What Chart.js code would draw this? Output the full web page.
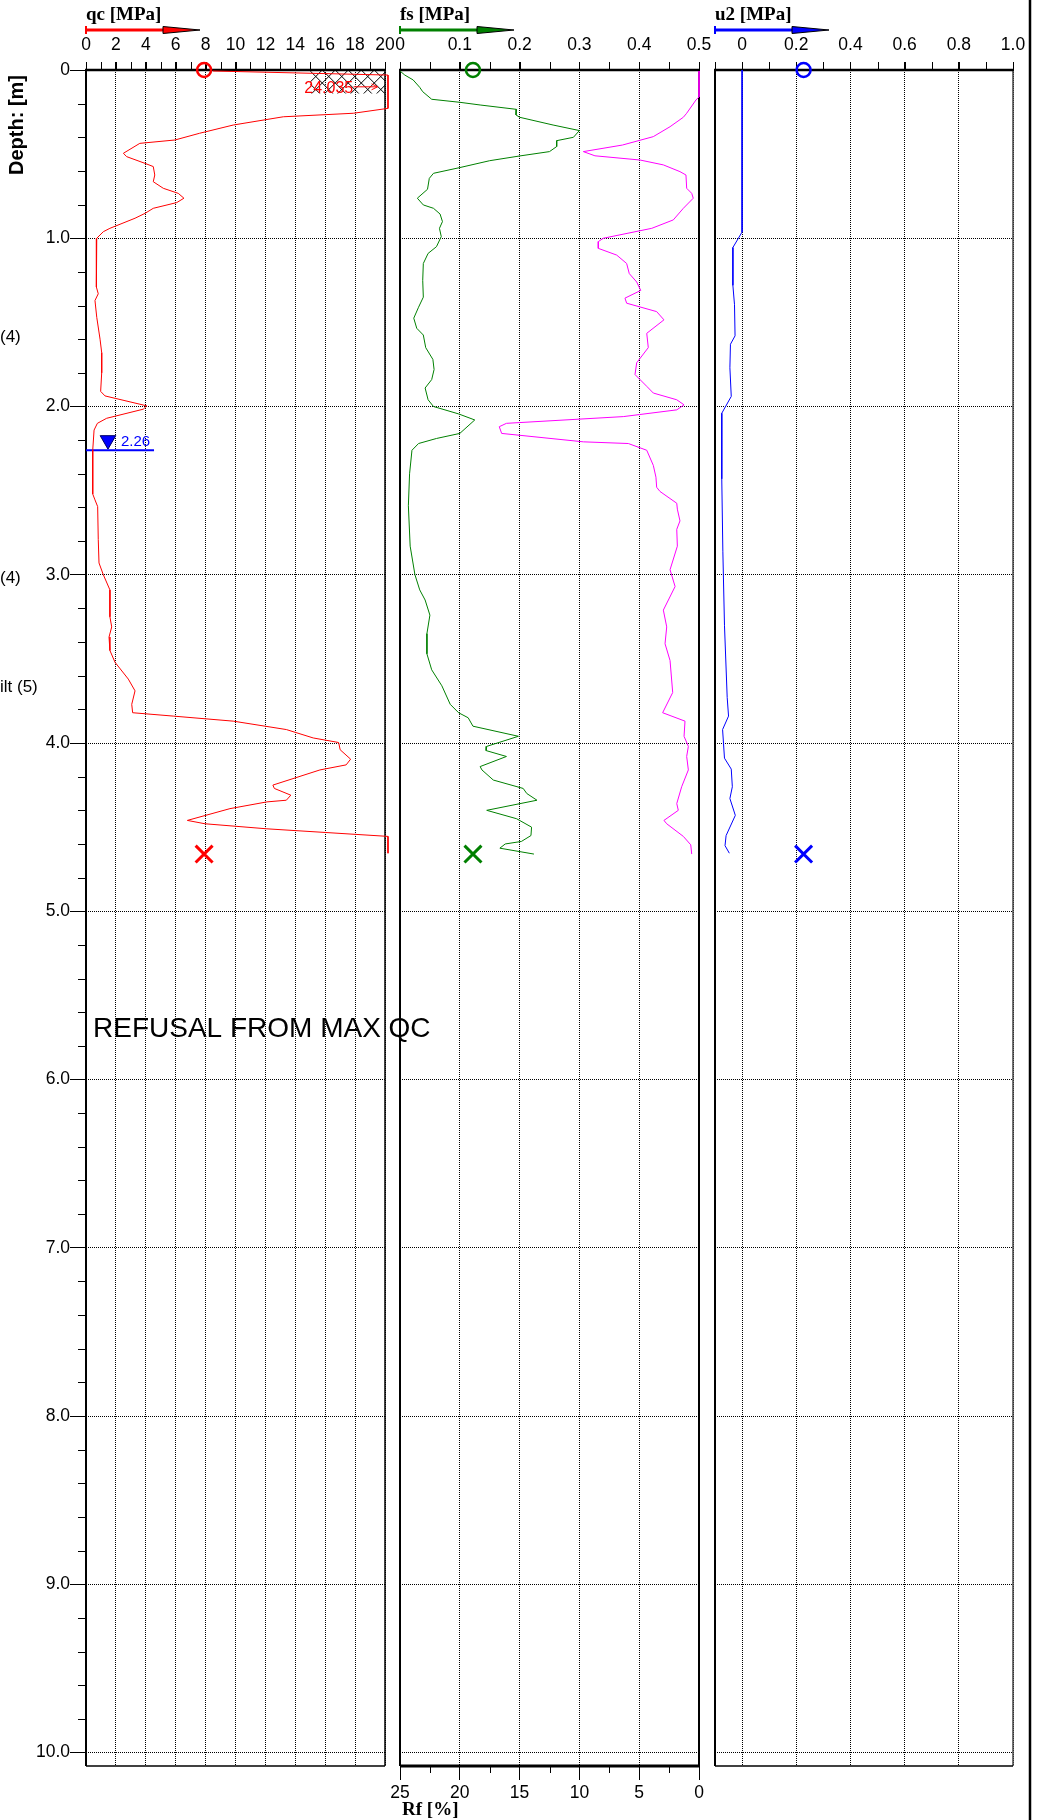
<!DOCTYPE html>
<html>
<head>
<meta charset="utf-8">
<script src="https://cdn.jsdelivr.net/npm/chart.js@4.4.0/dist/chart.umd.min.js"></script>
<style>
    body { margin: 0; background: #fff; width: 1048px; height: 1820px; overflow: hidden; position: relative; }
    canvas { position: absolute; top: 0; }
</style>
</head>
<body>
<canvas id="qcChart" width="440" height="1820" style="left:0px"></canvas>
<canvas id="fsChart" width="330" height="1820" style="left:385px"></canvas>
<canvas id="u2Chart" width="348" height="1820" style="left:700px"></canvas>
<script>
// cone resistance qc [MPa] vs depth [m]
const qcDepth = [0.006, 0.03, 0.04, 0.228, 0.257, 0.278, 0.327, 0.376, 0.416, 0.436, 0.495, 0.515, 0.555, 0.574, 0.624, 0.664,
    0.703, 0.733, 0.762, 0.788, 0.822, 0.852, 0.881, 0.941, 0.961, 1.0, 1.11, 1.29, 1.33, 1.37, 1.47, 1.60, 1.68, 1.80, 1.91,
    1.937, 1.996, 2.016, 2.07, 2.10, 2.14, 2.26, 2.52, 2.555, 2.595, 2.79, 2.93, 3.0, 3.09, 3.25, 3.31, 3.37, 3.45, 3.52, 3.62,
    3.69, 3.77, 3.82, 3.84, 3.87, 3.92, 3.97, 3.997, 4.04, 4.096, 4.13, 4.16, 4.25, 4.27, 4.31, 4.34, 4.35, 4.39, 4.46, 4.48,
    4.51, 4.555, 4.655];
const qcValues = [8.5, 20.2, 20.2, 20.2, 17.9, 13.2, 9.85, 7.6, 5.95, 3.6, 2.5, 2.72, 3.95, 4.5, 4.6, 4.5,
    5.17, 6.17, 6.55, 6.07, 4.5, 3.95, 3.28, 1.6, 1.16, 0.72, 0.67, 0.72, 0.82, 0.6, 0.72, 0.94, 1.05, 1.05, 0.98,
    1.27, 4.06, 3.83, 1.38, 0.76, 0.54, 0.45, 0.45, 0.6, 0.78, 0.82, 0.87, 1.16, 1.6, 1.6, 1.72, 1.54, 1.6, 1.94, 2.83,
    3.28, 3.06, 3.12, 5.84, 9.85, 13.4, 15.2, 16.9, 17.0, 17.7, 17.4, 15.65, 12.5, 12.6, 13.7, 13.4, 12.1, 9.63, 6.78, 7.96,
    12.1, 20.2, 20.2];

// sleeve friction fs [MPa]
const fsDepth = [0.006, 0.03, 0.059, 0.103, 0.129, 0.174, 0.192, 0.208, 0.234, 0.267, 0.281, 0.327, 0.36, 0.40, 0.42, 0.455,
    0.485, 0.511, 0.539, 0.58, 0.614, 0.644, 0.709, 0.762, 0.802, 0.822, 0.856, 0.901, 0.941, 0.99, 1.05, 1.09, 1.15, 1.25,
    1.35, 1.41, 1.475, 1.535, 1.575, 1.65, 1.72, 1.78, 1.84, 1.89, 1.96, 2.0, 2.044, 2.08, 2.16, 2.19, 2.22, 2.26, 2.40, 2.59,
    2.83, 3.0, 3.09, 3.15, 3.24, 3.35, 3.47, 3.565, 3.66, 3.77, 3.82, 3.85, 3.90, 3.96, 4.02, 4.045, 4.08, 4.14, 4.16, 4.22,
    4.27, 4.30, 4.34, 4.40, 4.45, 4.50, 4.55, 4.585, 4.60, 4.625, 4.66];
const fsValues = [0, 0.008, 0.022, 0.033, 0.038, 0.053, 0.10, 0.134, 0.195, 0.194, 0.20, 0.256, 0.30, 0.29, 0.262, 0.262,
    0.25, 0.20, 0.15, 0.10, 0.056, 0.049, 0.046, 0.029, 0.039, 0.056, 0.067, 0.071, 0.066, 0.069, 0.061, 0.047, 0.039, 0.038,
    0.039, 0.031, 0.023, 0.028, 0.039, 0.043, 0.055, 0.057, 0.053, 0.042, 0.047, 0.056, 0.098, 0.125, 0.10, 0.061, 0.031, 0.02, 0.016, 0.014,
    0.017, 0.025, 0.033, 0.042, 0.05, 0.045, 0.045, 0.053, 0.07, 0.084, 0.098, 0.114, 0.122, 0.198, 0.145, 0.144, 0.178, 0.134, 0.137, 0.156,
    0.206, 0.212, 0.229, 0.145, 0.195, 0.22, 0.219, 0.203, 0.176, 0.167, 0.224];

// friction ratio Rf [%]
const rfDepth = [0.006, 0.16, 0.178, 0.257, 0.281, 0.337, 0.396, 0.446, 0.485, 0.51, 0.535, 0.564, 0.604, 0.624, 0.703, 0.733,
    0.762, 0.822, 0.891, 0.941, 1.0, 1.02, 1.06, 1.10, 1.15, 1.21, 1.26, 1.31, 1.356, 1.386, 1.436, 1.485, 1.565, 1.65, 1.74,
    1.81, 1.88, 1.92, 1.96, 1.99, 2.02, 2.06, 2.10, 2.12, 2.16, 2.21, 2.22, 2.26, 2.35, 2.42, 2.48, 2.505, 2.575, 2.61, 2.68,
    2.73, 2.83, 2.97, 3.07, 3.21, 3.31, 3.41, 3.51, 3.70, 3.82, 3.87, 3.96, 4.02, 4.08, 4.16, 4.26, 4.36, 4.40, 4.46, 4.48,
    4.555, 4.605, 4.66];
const rfValues = [0, 0, 0.25, 1.03, 1.31, 2.42, 3.82, 6.4, 9.67, 8.7, 4.93, 2.98, 1.59, 1.09, 1.03, 0.61,
    0.48, 1.31, 2.15, 3.95, 8.0, 8.42, 8.42, 6.88, 6.05, 5.83, 5.21, 4.87, 6.19, 6.05, 3.54, 2.93, 4.37, 4.24, 5.21,
    5.35, 4.37, 3.82, 1.86, 1.25, 1.86, 6.33, 16.1, 16.7, 16.5, 9.67, 5.91, 4.37, 3.82, 3.60, 3.54, 3.26, 1.86, 1.81, 1.59,
    1.86, 1.81, 2.42, 2.0, 2.98, 2.70, 2.84, 2.42, 2.20, 3.04, 1.17, 1.25, 0.89, 1.03, 0.89, 1.45, 1.86, 1.73, 2.93, 2.70,
    1.31, 0.69, 0.61];

// pore pressure u2 [MPa]
const u2Depth = [0, 0.963, 1.055, 1.28, 1.395, 1.58, 1.63, 1.77, 1.94, 2.04, 2.43, 2.86, 3.30, 3.73, 3.84, 3.92,
    4.09, 4.155, 4.26, 4.33, 4.43, 4.55, 4.61, 4.655];
const u2Values = [0, 0, -0.034, -0.034, -0.028, -0.026, -0.043, -0.045, -0.04, -0.075, -0.075, -0.071, -0.065, -0.055, -0.050, -0.072,
    -0.065, -0.04, -0.036, -0.045, -0.025, -0.059, -0.063, -0.047];

// axis ticks and labels
const depthTicks = [0, 1, 2, 3, 4, 5, 6, 7, 8, 9, 10];
const depthLabels = ['0', '1.0', '2.0', '3.0', '4.0', '5.0', '6.0', '7.0', '8.0', '9.0', '10.0'];
const qcTicks = [0, 2, 4, 6, 8, 10, 12, 14, 16, 18, 20];
const fsTicks = [0, 0.1, 0.2, 0.3, 0.4, 0.5];
const fsTickLabels = ['0', '0.1', '0.2', '0.3', '0.4', '0.5'];
const u2Ticks = [0, 0.2, 0.4, 0.6, 0.8, 1.0];
const u2TickLabels = ['0', '0.2', '0.4', '0.6', '0.8', '1.0'];
const rfTicks = [0, 5, 10, 15, 20, 25];

// markers and annotations
const waterDepth = 2.26;
const endDepth = 4.66;
const qcMarker = 7.9;
const fsMarker = 0.122;
const u2Marker = 0.227;
const soilLabels = ['(4)', '(4)', 'ilt (5)'];
const soilLabelDepths = [1.59, 3.02, 3.67];

const FONT = '"Liberation Sans", Arial, sans-serif';
const SERIF = '"Liberation Serif", "Times New Roman", serif';
const TICK_SIZE = 17.5;
Chart.defaults.font.family = FONT;
Chart.defaults.color = '#000';

function pts(depths, values) {
    return depths.map((d, i) => ({ x: values[i], y: d }));
}

function range(min, max, step) {
    var out = [];
    for (var v = min; v <= max + step / 1000; v += step) out.push(Math.round(v * 1000) / 1000);
    return out;
}

function line(ctx, x1, y1, x2, y2, w) {
    ctx.lineWidth = w;
    ctx.beginPath();
    ctx.moveTo(x1, y1);
    ctx.lineTo(x2, y2);
    ctx.stroke();
}

function drawHeader(ctx, left, title, color) {
    ctx.font = 'bold 19px ' + SERIF;
    ctx.fillStyle = '#000';
    ctx.textAlign = 'left';
    ctx.textBaseline = 'middle';
    ctx.fillText(title, left, 15);
    ctx.strokeStyle = color;
    line(ctx, left, 30, left + 77, 30, 3);
    line(ctx, left, 26, left, 34, 2);
    ctx.beginPath();
    ctx.moveTo(left + 77, 26.5);
    ctx.lineTo(left + 114, 30);
    ctx.lineTo(left + 77, 33.5);
    ctx.closePath();
    ctx.fillStyle = color;
    ctx.fill();
    ctx.strokeStyle = '#000';
    ctx.lineWidth = 1;
    ctx.stroke();
}

// frame, minor ticks and texts for one panel
function makeDecor(cfg) {
    return {
        id: 'decor',
        beforeDatasetsDraw(chart) {
            const ctx = chart.ctx, a = chart.chartArea;
            const xs = chart.scales.x, ys = chart.scales.y;
            ctx.save();
            ctx.strokeStyle = '#000';

            if (cfg.hatch) {
                const hx = xs.getPixelForValue(15), hy = ys.getPixelForValue(0.14);
                ctx.save();
                ctx.beginPath();
                ctx.rect(hx, a.top, a.right - hx, hy - a.top);
                ctx.clip();
                for (var k = hx - 40; k < a.right + 40; k += 13) {
                    line(ctx, k, a.top, k + 30, a.top + 30, 1);
                    line(ctx, k, a.top, k - 30, a.top + 30, 1);
                }
                ctx.restore();
            }

            line(ctx, a.left, a.top, a.left, a.bottom, 2);
            ctx.strokeStyle = cfg.rightColor;
            line(ctx, a.right, a.top, a.right, a.bottom, cfg.rightWidth);
            ctx.strokeStyle = '#000';
            line(ctx, a.left, a.bottom, a.right, a.bottom, cfg.bottomWidth);
            line(ctx, a.left - 1, a.top, a.right + 1, a.top, 2.5);

            cfg.topMinor.forEach(v => {
                const px = Math.round(xs.getPixelForValue(v)) + 0.5;
                line(ctx, px, a.top - 8, px, a.top, 1);
            });
            if (cfg.depthMinor) {
                range(0, 10, 0.2).forEach(d => {
                    if (Math.abs(d - Math.round(d)) < 0.01) return;
                    const py = Math.round(ys.getPixelForValue(d)) + 0.5;
                    line(ctx, a.left - 8, py, a.left, py, 1);
                });
            }
            if (cfg.rfMinor) {
                const rs = chart.scales.rf;
                cfg.rfMinor.forEach(v => {
                    const px = Math.round(rs.getPixelForValue(v)) + 0.5;
                    line(ctx, px, a.bottom, px, a.bottom + 7, 1);
                });
            }
            if (cfg.borderX) {
                ctx.strokeStyle = '#000';
                line(ctx, cfg.borderX, 0, cfg.borderX, chart.height, 2.5);
            }
            ctx.restore();
        },
        afterDatasetsDraw(chart) {
            const ctx = chart.ctx, a = chart.chartArea;
            const xs = chart.scales.x, ys = chart.scales.y;
            ctx.save();
            drawHeader(ctx, a.left, cfg.title, cfg.color);

            if (cfg.qcPanel) {
                // depth axis title
                ctx.save();
                ctx.translate(17, 125);
                ctx.rotate(-Math.PI / 2);
                ctx.font = 'bold 20px ' + FONT;
                ctx.fillStyle = '#000';
                ctx.textAlign = 'center';
                ctx.textBaseline = 'middle';
                ctx.fillText('Depth: [m]', 0, 0);
                ctx.restore();

                ctx.font = '17px ' + FONT;
                ctx.fillStyle = '#000';
                ctx.textAlign = 'left';
                ctx.textBaseline = 'middle';
                soilLabels.forEach((t, i) => ctx.fillText(t, 0, ys.getPixelForValue(soilLabelDepths[i])));

                // maximum qc note
                ctx.font = '16px ' + FONT;
                ctx.fillStyle = '#ff0000';
                ctx.textBaseline = 'alphabetic';
                ctx.fillText('24.035', xs.getPixelForValue(14.6), ys.getPixelForValue(0.135));
                const ay = ys.getPixelForValue(0.1);
                const ax1 = xs.getPixelForValue(17.9), ax2 = xs.getPixelForValue(19.5);
                ctx.strokeStyle = '#ff0000';
                line(ctx, ax1, ay, ax2, ay, 1);
                ctx.beginPath();
                ctx.moveTo(ax2 - 6, ay - 3);
                ctx.lineTo(ax2, ay);
                ctx.lineTo(ax2 - 6, ay + 3);
                ctx.stroke();

                // water level value
                ctx.font = '15px ' + FONT;
                ctx.fillStyle = '#0000ff';
                ctx.textBaseline = 'bottom';
                ctx.fillText('2.26', xs.getPixelForValue(2.34), ys.getPixelForValue(waterDepth) - 1);

                ctx.font = '28px ' + FONT;
                ctx.fillStyle = '#000';
                ctx.textBaseline = 'middle';
                ctx.fillText('REFUSAL FROM MAX QC', a.left + 7, ys.getPixelForValue(5.7));
            }
            if (cfg.rfMinor) {
                ctx.font = 'bold 19px ' + SERIF;
                ctx.fillStyle = '#000';
                ctx.textAlign = 'left';
                ctx.textBaseline = 'middle';
                ctx.fillText('Rf [%]', a.left + 2, 1810);
            }
            ctx.restore();
        }
    };
}

function depthScale(leftWidth, showLabels) {
    return {
        type: 'linear', position: 'left', reverse: true, min: 0, max: 10.08,
        afterBuildTicks: s => { s.ticks = depthTicks.map(v => ({ value: v })); },
        afterFit: s => { s.width = leftWidth; s.paddingTop = 0; s.paddingBottom = 0; },
        ticks: { display: showLabels, padding: 0, font: { size: TICK_SIZE }, color: '#000',
            callback: (v, i) => depthLabels[i] },
        grid: { color: '#000', lineWidth: 1, drawTicks: showLabels, tickLength: 16, tickColor: '#000' },
        border: { display: false, dash: [1, 1] }
    };
}

function topScale(min, max, ticks, labels, gridColor) {
    return {
        type: 'linear', position: 'top', min: min, max: max,
        afterBuildTicks: s => { s.ticks = ticks.map(v => ({ value: v })); },
        afterFit: s => { s.height = 70; s.paddingLeft = 0; s.paddingRight = 0; },
        ticks: { padding: 6, font: { size: TICK_SIZE }, color: '#000', maxRotation: 0, autoSkip: false,
            callback: (v, i) => labels[i] },
        grid: { color: gridColor, lineWidth: 1, drawTicks: true, tickLength: 8, tickColor: '#000' },
        border: { display: false, dash: [1, 1] }
    };
}

function lineSet(data, color, xAxisID) {
    return { data: data, xAxisID: xAxisID || 'x', showLine: true, borderColor: color, borderWidth: 1,
        pointRadius: 0, fill: false, tension: 0, clip: false };
}

function markerSet(data, color, style, radius, width) {
    return { data: data, showLine: false, pointStyle: style, pointRadius: radius, pointBorderWidth: width,
        pointBorderColor: color, pointBackgroundColor: 'rgba(0,0,0,0)', clip: false };
}

const baseOptions = {
    responsive: false, animation: false, events: [],
    plugins: { legend: { display: false }, tooltip: { enabled: false } }
};

// qc panel
new Chart(document.getElementById('qcChart'), {
    type: 'scatter',
    data: { datasets: [
        lineSet(pts(qcDepth, qcValues), '#ff0000'),
        { data: [{ x: 0, y: waterDepth }, { x: 4.55, y: waterDepth }], showLine: true, borderColor: '#0000ff',
          borderWidth: 2, pointRadius: 0, clip: false },
        { data: [{ x: 1.47, y: 2.2 }], showLine: false, pointStyle: 'triangle', pointRotation: 180, pointRadius: 9,
          pointBackgroundColor: '#0000ff', pointBorderColor: '#000066', pointBorderWidth: 1 },
        markerSet([{ x: qcMarker, y: 0 }], '#ff0000', 'circle', 7, 2.5),
        markerSet([{ x: qcMarker, y: endDepth }], '#ff0000', 'crossRot', 12, 3)
    ] },
    options: Object.assign({}, baseOptions, {
        layout: { padding: { top: 0, left: 0, right: 55, bottom: 54 } },
        scales: {
            x: topScale(0, 20, qcTicks, qcTicks.map(String), '#000'),
            y: depthScale(86, true)
        }
    }),
    plugins: [makeDecor({ title: 'qc [MPa]', color: '#ff0000', topMinor: range(0, 20, 1), depthMinor: true,
        qcPanel: true, hatch: true, rightWidth: 1.5, rightColor: '#000', bottomWidth: 1.5 })]
});

// fs / Rf panel
new Chart(document.getElementById('fsChart'), {
    type: 'scatter',
    data: { datasets: [
        lineSet(pts(fsDepth, fsValues), '#008000'),
        lineSet(pts(rfDepth, rfValues), '#ff00ff', 'rf'),
        markerSet([{ x: fsMarker, y: 0 }], '#008000', 'circle', 7, 2.5),
        markerSet([{ x: fsMarker, y: endDepth }], '#008000', 'crossRot', 12, 3)
    ] },
    options: Object.assign({}, baseOptions, {
        layout: { padding: { top: 0, left: 0, right: 16, bottom: 0 } },
        scales: {
            x: topScale(0, 0.5, fsTicks, fsTickLabels, '#000'),
            rf: {
                type: 'linear', position: 'bottom', reverse: true, min: 0, max: 25,
                afterBuildTicks: s => { s.ticks = rfTicks.map(v => ({ value: v })); },
                afterFit: s => { s.height = 54; s.paddingLeft = 0; s.paddingRight = 0; },
                ticks: { padding: 3, font: { size: TICK_SIZE }, color: '#000', maxRotation: 0, autoSkip: false,
                    callback: v => String(v) },
                grid: { drawOnChartArea: false, drawTicks: true, tickLength: 14, tickColor: '#000', lineWidth: 1 },
                border: { display: false }
            },
            y: depthScale(15, false)
        }
    }),
    plugins: [makeDecor({ title: 'fs [MPa]', color: '#008000', topMinor: range(0, 0.5, 0.05),
        rfMinor: [2.5, 7.5, 12.5, 17.5, 22.5], rightWidth: 2, rightColor: '#000', bottomWidth: 3 })]
});

// u2 panel
new Chart(document.getElementById('u2Chart'), {
    type: 'scatter',
    data: { datasets: [
        lineSet(pts(u2Depth, u2Values), '#0000ff'),
        markerSet([{ x: u2Marker, y: 0 }], '#0000ff', 'circle', 7, 2.5),
        markerSet([{ x: u2Marker, y: endDepth }], '#0000ff', 'crossRot', 12, 3)
    ] },
    options: Object.assign({}, baseOptions, {
        layout: { padding: { top: 0, left: 0, right: 35, bottom: 54 } },
        scales: {
            x: topScale(-0.1, 1.0, u2Ticks, u2TickLabels, '#000'),
            y: depthScale(14, false)
        }
    }),
    plugins: [makeDecor({ title: 'u2 [MPa]', color: '#0000ff', topMinor: range(-0.1, 1.0, 0.1),
        rightWidth: 1.5, rightColor: '#444', bottomWidth: 1.5, borderX: 330 })]
});
</script>
</body>
</html>
